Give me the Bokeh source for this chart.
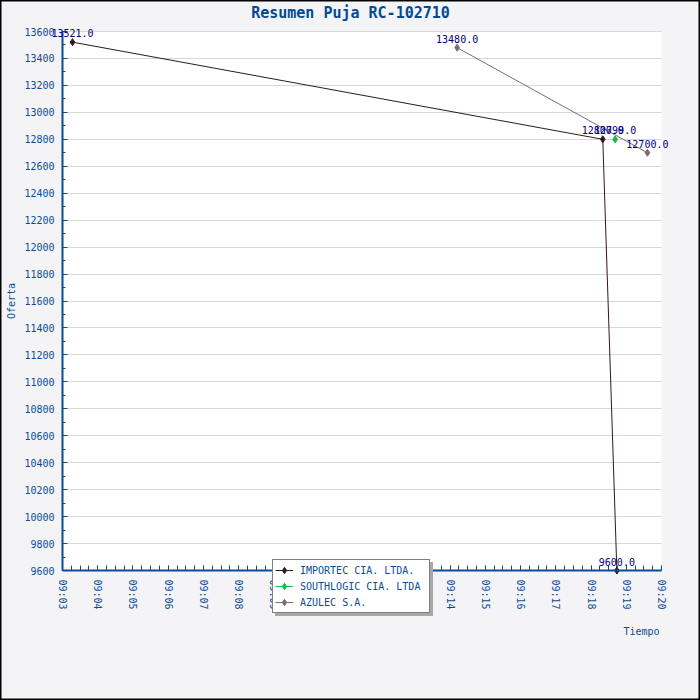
import pandas as pd
from bokeh.plotting import figure
from bokeh.models import (ColumnDataSource, LabelSet, Legend, LegendItem, FixedTicker,
                          DatetimeTickFormatter, Range1d, BoxAnnotation, Label)
from bokeh.core.properties import value
from bokeh.embed import file_html
from bokeh.resources import INLINE

DAY = "2024-01-01 "

title = "Resumen Puja RC-102710"
x_title = "Tiempo"
y_title = "Oferta"
series_names = ["IMPORTEC CIA. LTDA.", "SOUTHLOGIC CIA. LTDA", "AZULEC S.A."]
series_colors = ["#301820", "#10c040", "#806870"]

importec_times = ["09:03:17", "09:18:20", "09:18:44"]
importec_values = [13521.0, 12800.0, 9600.0]

southlogic_times = ["09:18:41"]
southlogic_values = [12799.0]

azulec_times = ["09:14:12", "09:19:36"]
azulec_values = [13480.0, 12700.0]

x_start, x_end = "09:03", "09:20"
y_start, y_end = 9600, 13600
y_major_step, y_minor_step = 200, 100

MONO = "DejaVu Sans Mono"
AXIS_BLUE = "#0a4d96"
LABEL_NAVY = "#000080"
BG = "#f4f4f6"

# layout (pixels): the frame is the whole 700x700 canvas, the plot area sits inside it
W = H = 700
PLOT_LEFT, PLOT_RIGHT, PLOT_TOP, PLOT_BOTTOM = 62, 661, 31, 570


def ts(t):
    return pd.Timestamp(DAY + t)


def ms(d):
    return d.value / 1e6


x0, x1 = ms(ts(x_start)), ms(ts(x_end))
px_x = (PLOT_RIGHT - PLOT_LEFT) / (x1 - x0)
px_y = (PLOT_BOTTOM - PLOT_TOP) / (y_end - y_start)
x_lo = x0 - PLOT_LEFT / px_x
x_hi = x1 + (W - PLOT_RIGHT) / px_x
y_lo = y_start - (H - PLOT_BOTTOM) / px_y
y_hi = y_end + PLOT_TOP / px_y

p = figure(width=W, height=H, output_backend="svg", toolbar_location=None,
           x_axis_type="datetime",
           x_range=Range1d(x_lo, x_hi), y_range=Range1d(y_lo, y_hi),
           frame_width=W, frame_height=H, min_border=0)

p.border_fill_color = BG
p.background_fill_color = BG
p.outline_line_color = "black"
p.outline_line_width = 2

# white plot area between the axis limits
p.add_layout(BoxAnnotation(left=x0, right=x1, bottom=y_start, top=y_end,
                           fill_color="white", fill_alpha=1.0, line_color=None, level="image"))

# title and axis titles
p.add_layout(Label(x=W / 2, y=H - 12, x_units="screen", y_units="screen", text=title,
                   text_align="center", text_baseline="middle", text_font=MONO,
                   text_font_size="15px", text_font_style="bold", text_color="#004a94"))
p.add_layout(Label(x=659, y=H - 631, x_units="screen", y_units="screen", text=x_title,
                   text_align="right", text_baseline="middle", text_font=MONO,
                   text_font_size="10px", text_color=AXIS_BLUE))

# x axis
major = [ts(x_start) + pd.Timedelta(minutes=i) for i in range(18)]
minor = [ts(x_start) + pd.Timedelta(seconds=15 * i) for i in range(17 * 4 + 1)]
p.xaxis.ticker = FixedTicker(ticks=[ms(d) for d in major], minor_ticks=[ms(d) for d in minor])
p.xaxis.formatter = DatetimeTickFormatter(minutes="%H:%M", hours="%H:%M", minsec="%H:%M",
                                          seconds="%H:%M", hourmin="%H:%M")
p.xaxis.major_label_orientation = "vertical"
p.xaxis.fixed_location = y_start
p.xaxis.bounds = (x0, x1)

# y axis
yticks = list(range(y_start, y_end + 1, y_major_step))
p.yaxis.ticker = FixedTicker(ticks=yticks,
                             minor_ticks=list(range(y_start, y_end + 1, y_minor_step)))
p.yaxis.fixed_location = x0
p.yaxis.bounds = (y_start, y_end)
p.yaxis.axis_label = y_title
p.yaxis.axis_label_standoff = 4

for ax in (p.xaxis, p.yaxis):
    ax.axis_line_color = AXIS_BLUE
    ax.axis_line_width = 2
    ax.major_tick_line_color = AXIS_BLUE
    ax.minor_tick_line_color = AXIS_BLUE
    ax.major_tick_out = 0
    ax.minor_tick_out = 0
    ax.major_label_text_font = MONO
    ax.major_label_text_font_size = "10px"
    ax.major_label_text_color = AXIS_BLUE
    ax.axis_label_text_font = MONO
    ax.axis_label_text_font_size = "10px"
    ax.axis_label_text_color = AXIS_BLUE
    ax.axis_label_text_font_style = "normal"

p.xaxis.major_tick_in = 5
p.xaxis.minor_tick_in = 5
p.yaxis.major_tick_in = 5
p.yaxis.minor_tick_in = 3
p.xaxis.major_label_standoff = 9
p.yaxis.major_label_standoff = 8

p.xgrid.grid_line_color = None
p.ygrid.grid_line_color = "#d8d8d8"
p.ygrid.ticker = FixedTicker(ticks=yticks)
p.ygrid.bounds = (y_start, y_end)
p.ygrid.cross_bounds = (x0, x1)

series = [
    (importec_times, importec_values),
    (southlogic_times, southlogic_values),
    (azulec_times, azulec_values),
]

items = []
for (times, vals), name, col in zip(series, series_names, series_colors):
    src = ColumnDataSource(dict(x=[ts(t) for t in times], y=vals,
                                lab=["%.1f" % v for v in vals]))
    r1 = p.line("x", "y", source=src, line_color=col, line_width=1)
    r2 = p.scatter("x", "y", source=src, marker="diamond", size=7,
                   fill_color=col, line_color=col)
    items.append(LegendItem(label=name, renderers=[r1, r2]))
    ls = LabelSet(x="x", y="y", text="lab", source=src, text_align="center",
                  text_baseline="bottom", y_offset=5, text_font=value(MONO),
                  text_font_size=value("10px"), text_color=LABEL_NAVY)
    p.add_layout(ls)

# legend with its drop shadow
dummy = p.scatter([], [], marker="diamond", size=7, fill_alpha=0, line_alpha=0)
dl = p.line([], [], line_alpha=0)
leg_x, leg_y = 272, H - 613
common = dict(orientation="vertical", label_text_font=MONO, label_text_font_size="10px",
              padding=2, margin=0, spacing=0, label_height=16, glyph_height=16,
              glyph_width=18, label_standoff=7, label_width=127)
shadow = Legend(items=[LegendItem(label=n, renderers=[dummy, dl]) for n in series_names],
                location=(leg_x + 3, leg_y - 3), label_text_alpha=0,
                background_fill_color="#a8a8a8", background_fill_alpha=1.0,
                border_line_color="#a8a8a8", border_line_width=1, **common)
p.add_layout(shadow, "center")

legend = Legend(items=items, location=(leg_x, leg_y), label_text_color=AXIS_BLUE,
                background_fill_color="white", background_fill_alpha=1.0,
                border_line_color="black", border_line_width=1, **common)
p.add_layout(legend, "center")

open("out.html", "w").write(file_html(p, INLINE))
